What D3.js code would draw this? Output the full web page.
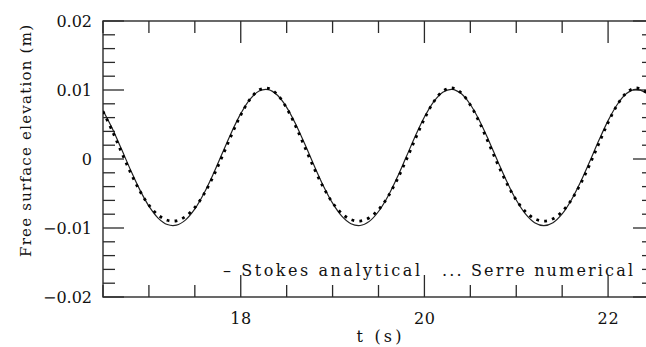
<!DOCTYPE html>
<html>
<head>
<meta charset="utf-8">
<script src="https://cdn.jsdelivr.net/npm/d3@7"></script>
<style>
  html, body { margin: 0; padding: 0; background: #fff; }
  svg { display: block; }
</style>
</head>
<body>
<div id="chart"></div>
<script>
// --- data (elevation in mm, converted below) ---
const tValues = [
  16.5, 16.6, 16.7, 16.8, 16.9, 17.0, 17.1, 17.2, 17.3, 17.4,
  17.5, 17.6, 17.7, 17.8, 17.9, 18.0, 18.1, 18.2, 18.3, 18.4,
  18.5, 18.6, 18.7, 18.8, 18.9, 19.0, 19.1, 19.2, 19.3, 19.4,
  19.5, 19.6, 19.7, 19.8, 19.9, 20.0, 20.1, 20.2, 20.3, 20.4,
  20.5, 20.6, 20.7, 20.8, 20.9, 21.0, 21.1, 21.2, 21.3, 21.4,
  21.5, 21.6, 21.7, 21.8, 21.9, 22.0, 22.1, 22.2, 22.3, 22.4, 22.5
];
const stokesMM = [
  7.04, 4.46, 1.47, -1.59, -4.44, -6.83, -8.56, -9.50, -9.59, -8.82,
  -7.24, -4.96, -2.19, 0.86, 3.88, 6.57, 8.64, 9.85, 10.05, 9.23,
  7.49, 5.01, 2.09, -0.99, -3.90, -6.40, -8.28, -9.38, -9.64, -9.04,
  -7.61, -5.47, -2.77, 0.24, 3.29, 6.08, 8.29, 9.68, 10.10, 9.48,
  7.90, 5.55, 2.69, -0.38, -3.35, -5.95, -7.96, -9.23, -9.66, -9.23,
  -7.96, -5.94, -3.34, -0.37, 2.70, 5.56, 7.90, 9.48, 10.10, 9.68, 8.29
];
const serreMM = [
  6.89, 4.10, 1.03, -1.97, -4.61, -6.69, -8.12, -8.88, -8.95, -8.33,
  -7.03, -5.07, -2.54, 0.41, 3.50, 6.37, 8.65, 10.01, 10.25, 9.32,
  7.37, 4.69, 1.65, -1.39, -4.12, -6.33, -7.89, -8.78, -8.99, -8.51,
  -7.35, -5.52, -3.08, -0.20, 2.89, 5.83, 8.26, 9.83, 10.29, 9.59,
  7.83, 5.27, 2.27, -0.80, -3.61, -5.94, -7.63, -8.66, -9.00, -8.66,
  -7.63, -5.93, -3.61, -0.80, 2.27, 5.27, 7.83, 9.60, 10.29, 9.82, 8.26
];
const xMajorTicks = [18, 20, 22];
const yMajorTicks = [-0.02, -0.01, 0, 0.01, 0.02];
const yTickLabels = ["\u22120.02", "\u22120.01", "0", "0.01", "0.02"];
const legendItems = ["\u2013 Stokes analytical", "... Serre numerical"];
const xTitle = "t (s)";
const yTitle = "Free surface elevation (m)";

// --- layout ---
const width = 646, height = 347;
const plotLeft = 103, plotRight = 654, plotTop = 21, plotBottom = 297;
const font = "'DejaVu Serif', 'Liberation Serif', serif";

const x = d3.scaleLinear().domain([16.5, 22.5]).range([plotLeft, plotRight]);
const y = d3.scaleLinear().domain([-0.02, 0.02]).range([plotBottom, plotTop]);

const svg = d3.select("#chart").append("svg")
  .attr("width", width)
  .attr("height", height);

const ink = "#2a2a2a";
const textInk = "#111";

// frame
svg.append("rect")
  .attr("x", plotLeft).attr("y", plotTop)
  .attr("width", plotRight - plotLeft).attr("height", plotBottom - plotTop)
  .attr("fill", "none").attr("stroke", ink).attr("stroke-width", 1.4);

// ticks (all pointing inward)
const xMinor = d3.range(16.5, 22.51, 0.5).filter(v => !xMajorTicks.includes(v));
const yMinor = d3.range(-0.02, 0.0201, 0.002).filter(v => !yMajorTicks.some(m => Math.abs(m - v) < 1e-9));

function xTicks(vals, len) {
  svg.append("g").selectAll("line").data(vals).enter().append("line")
    .attr("x1", d => x(d)).attr("x2", d => x(d))
    .attr("y1", plotBottom).attr("y2", plotBottom - len)
    .attr("stroke", ink).attr("stroke-width", 1.3);
  svg.append("g").selectAll("line").data(vals).enter().append("line")
    .attr("x1", d => x(d)).attr("x2", d => x(d))
    .attr("y1", plotTop).attr("y2", plotTop + len)
    .attr("stroke", ink).attr("stroke-width", 1.3);
}
function yTicks(vals, len) {
  svg.append("g").selectAll("line").data(vals).enter().append("line")
    .attr("x1", plotLeft).attr("x2", plotLeft + len)
    .attr("y1", d => y(d)).attr("y2", d => y(d))
    .attr("stroke", ink).attr("stroke-width", 1.3);
  svg.append("g").selectAll("line").data(vals).enter().append("line")
    .attr("x1", plotRight).attr("x2", plotRight - len)
    .attr("y1", d => y(d)).attr("y2", d => y(d))
    .attr("stroke", ink).attr("stroke-width", 1.3);
}
xTicks(xMajorTicks, 22);
xTicks(xMinor, 12);
yTicks(yMajorTicks, 21);
yTicks(yMinor, 12);

// tick labels
svg.append("g").selectAll("text").data(xMajorTicks).enter().append("text")
  .attr("font-family", font).attr("fill", textInk)
  .attr("x", d => x(d)).attr("y", 323.5)
  .attr("text-anchor", "middle")
  .attr("font-size", 16)
  .attr("textLength", 21).attr("lengthAdjust", "spacing")
  .text(d => d);

svg.append("g").selectAll("text").data(yMajorTicks).enter().append("text")
  .attr("font-family", font).attr("fill", textInk)
  .attr("x", 92).attr("y", d => y(d))
  .attr("dy", "0.36em")
  .attr("text-anchor", "end")
  .attr("font-size", 16)
  .text((d, i) => yTickLabels[i]);

// axis titles
svg.append("text")
  .attr("font-family", font).attr("fill", textInk)
  .attr("x", 379).attr("y", 342)
  .attr("text-anchor", "middle")
  .attr("font-size", 16)
  .attr("textLength", 45).attr("lengthAdjust", "spacing")
  .text(xTitle);

svg.append("text")
  .attr("font-family", font).attr("fill", textInk)
  .attr("transform", "translate(31,141) rotate(-90)")
  .attr("text-anchor", "middle")
  .attr("font-size", 15)
  .attr("textLength", 232).attr("lengthAdjust", "spacing")
  .text(yTitle);

// curves
svg.append("clipPath").attr("id", "plot-clip")
  .append("rect").attr("x", plotLeft).attr("y", plotTop)
  .attr("width", plotRight - plotLeft).attr("height", plotBottom - plotTop);

const line = d3.line()
  .x(d => x(d.t))
  .y(d => y(d.v))
  .curve(d3.curveCatmullRom.alpha(0.5));

const stokes = tValues.map((t, i) => ({ t: t, v: stokesMM[i] / 1000 }));
const serre = tValues.map((t, i) => ({ t: t, v: serreMM[i] / 1000 }));

const curves = svg.append("g").attr("clip-path", "url(#plot-clip)");

curves.append("path")
  .attr("d", line(stokes))
  .attr("fill", "none")
  .attr("stroke", "#222")
  .attr("stroke-width", 1.2);

curves.append("path")
  .attr("d", line(serre))
  .attr("fill", "none")
  .attr("stroke", "#000")
  .attr("stroke-width", 2.8)
  .attr("stroke-dasharray", "2.8 5.2");

// legend
svg.append("text")
  .attr("font-family", font).attr("fill", textInk)
  .attr("x", 223).attr("y", 276)
  .attr("font-size", 16)
  .attr("textLength", 197).attr("lengthAdjust", "spacing")
  .text(legendItems[0]);

svg.append("text")
  .attr("font-family", font).attr("fill", textInk)
  .attr("x", 442).attr("y", 276)
  .attr("font-size", 16)
  .attr("textLength", 191).attr("lengthAdjust", "spacing")
  .text(legendItems[1]);
</script>
</body>
</html>
